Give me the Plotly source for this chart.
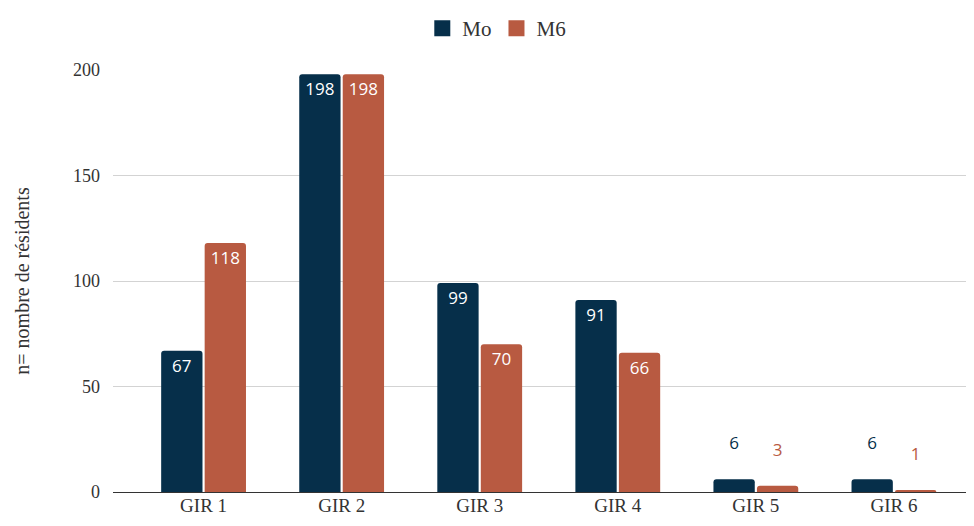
import plotly.graph_objects as go

categories = ["GIR 1", "GIR 2", "GIR 3", "GIR 4", "GIR 5", "GIR 6"]
m0_values = [67, 198, 99, 91, 6, 6]
m6_values = [118, 198, 70, 66, 3, 1]
series_names = ["Mo", "M6"]
y_ticks = [0, 50, 100, 150, 200]

NAVY = "#062f4a"
RUST = "#b85a41"
SERIF = "Liberation Serif"
SANS = "Open Sans"


def labels(vals):
    return [str(v) if v >= 20 else f"{v}<br>&nbsp;" for v in vals]


def positions(vals):
    return ["inside" if v >= 20 else "outside" for v in vals]


fig = go.Figure()
for name, vals, col in [(series_names[0], m0_values, NAVY), (series_names[1], m6_values, RUST)]:
    fig.add_trace(go.Bar(
        x=categories, y=vals, name=name, marker_color=col,
        marker_line_width=0, showlegend=False,
        text=labels(vals), textposition=positions(vals),
        insidetextanchor="end",
        insidetextfont=dict(family=SANS, size=17, color="white"),
        outsidetextfont=dict(family=SANS, size=17, color=col),
        cliponaxis=False,
    ))
    fig.add_trace(go.Scatter(
        x=[None], y=[None], mode="markers", name=name,
        marker=dict(symbol="square", size=22, color=col), showlegend=True,
    ))

# page body has an 8px margin, so the figure is sized/offset to compensate
fig.update_layout(
    width=966, height=518,
    margin=dict(l=105, r=0, t=62, b=34, autoexpand=False),
    paper_bgcolor="white", plot_bgcolor="white",
    barmode="group", bargap=0.37, bargroupgap=0.05,
    barcornerradius=3,
    font=dict(family=SERIF, size=18, color="#333333"),
    legend=dict(orientation="h", xref="container", x=0.506, xanchor="center",
                y=1.0, yanchor="top", yref="container",
                font=dict(family=SERIF, size=21, color="#333333"),
                itemwidth=30, traceorder="normal"),
    showlegend=True,
)
fig.update_xaxes(range=[-0.656, 5.58], showgrid=False, showline=False, automargin=False,
                 tickfont=dict(family=SERIF, size=19, color="#333333"), ticks="")
fig.update_yaxes(range=[0, 200], tickvals=y_ticks, showgrid=True, gridcolor="#d3d3d3",
                 gridwidth=1, zeroline=True, zerolinecolor="#333333", zerolinewidth=1.3,
                 automargin=False,
                 tickfont=dict(family=SERIF, size=18, color="#333333"),
                 ticklabelstandoff=12,
                 title=dict(text="n= nombre de résidents", font=dict(family=SERIF, size=20, color="#333333"),
                            standoff=38))

fig.write_html("out.html")
